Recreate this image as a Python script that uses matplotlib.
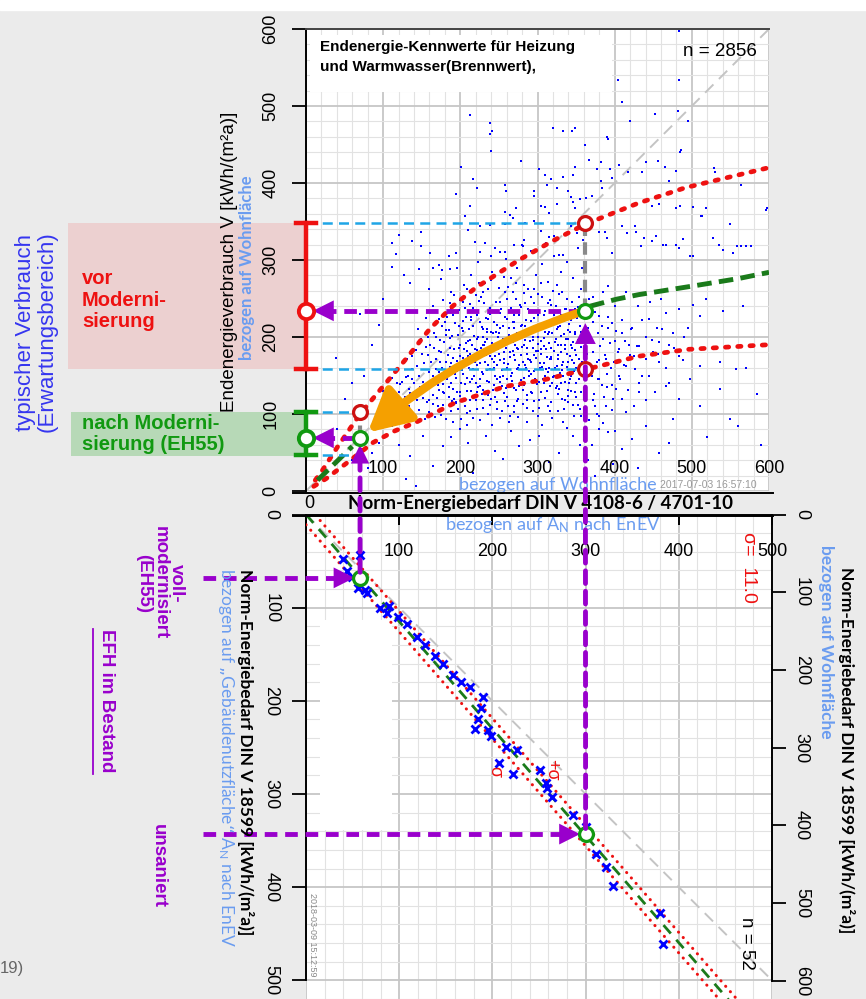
import matplotlib.pyplot as plt
from matplotlib.patches import Rectangle, FancyArrowPatch, ConnectionPatch
from matplotlib.lines import Line2D

# ---------------- data ----------------
# upper panel (Wohnflaeche): demand (x) vs. consumption (y), sparse points
pts_upper = [(212, 488), (238, 478), (241, 467), (239, 463), (240, 442), (320, 472), (333, 468), (345, 468),
             (348, 472), (362, 450), (390, 460), (392, 457), (409, 505), (404, 534), (484, 597), (484, 534),
             (420, 480), (452, 490), (482, 493), (495, 480), (486, 443), (485, 440), (278, 429), (201, 421),
             (217, 405), (221, 394), (194, 386), (258, 397), (259, 389), (302, 418), (310, 411), (318, 405),
             (312, 398), (325, 393), (333, 408), (346, 410), (349, 421), (367, 430), (382, 427), (377, 418),
             (394, 418), (397, 406), (406, 424), (417, 414), (435, 414), (441, 427), (456, 429), (465, 421),
             (470, 403), (480, 416), (529, 419), (530, 414), (564, 398), (296, 389), (295, 383), (340, 389),
             (343, 382), (346, 375), (349, 367), (355, 379), (363, 381), (371, 383), (382, 402), (384, 394),
             (305, 370), (310, 369), (315, 361), (325, 373), (213, 370), (206, 357), (258, 362), (264, 358),
             (272, 368), (268, 355), (295, 351), (284, 348), (258, 347), (238, 346), (225, 344), (210, 339),
             (121, 332), (137, 325), (149, 336), (149, 318), (116, 308), (111, 322), (112, 291), (127, 281),
             (135, 270), (146, 288), (161, 309), (164, 290), (173, 293), (176, 287), (187, 288), (194, 309),
             (219, 324), (225, 311), (232, 322), (240, 305), (252, 311), (258, 311), (270, 320), (281, 318),
             (283, 326), (305, 338), (311, 322), (322, 331), (328, 306), (333, 306), (343, 344), (351, 335),
             (359, 326), (380, 337), (388, 337), (390, 328), (397, 309), (410, 344), (416, 335), (426, 344),
             (428, 337), (434, 318), (438, 329), (449, 325), (454, 331), (463, 320), (467, 319), (479, 320),
             (484, 316), (489, 327), (497, 305), (501, 305), (513, 357), (527, 329), (535, 320), (540, 313),
             (549, 347), (553, 309), (559, 318), (570, 318), (577, 318), (598, 367), (449, 370), (458, 373),
             (479, 367), (485, 370), (501, 369), (518, 367), (512, 357), (564, 318), (596, 365)]

pts_core = [(131, 171), (137, 158), (142, 183), (146, 149), (149, 197), (153, 166), (155, 132), (158, 176),
            (161, 189), (163, 143), (166, 205), (168, 158), (170, 121), (172, 182), (174, 168), (176, 214),
            (177, 139), (179, 193), (181, 152), (183, 226), (184, 176), (186, 110), (187, 161), (189, 201),
            (190, 133), (192, 184), (193, 218), (195, 147), (196, 169), (198, 235), (199, 124), (200, 190),
            (202, 157), (203, 208), (204, 173), (206, 139), (207, 226), (208, 101), (209, 182), (211, 160),
            (212, 196), (213, 243), (214, 130), (215, 171), (217, 214), (218, 149), (219, 185), (220, 118),
            (221, 229), (222, 163), (223, 200), (225, 137), (226, 178), (227, 252), (228, 155), (229, 211),
            (230, 108), (231, 189), (232, 168), (233, 225), (234, 143), (235, 197), (236, 125), (237, 181),
            (238, 238), (239, 159), (240, 207), (241, 172), (242, 131), (243, 219), (244, 188), (245, 150),
            (246, 246), (247, 164), (248, 115), (249, 200), (250, 178), (251, 231), (252, 141), (253, 193),
            (254, 157), (255, 214), (256, 127), (257, 171), (258, 259), (259, 186), (260, 146), (261, 224),
            (262, 165), (263, 203), (264, 98), (265, 180), (266, 238), (267, 153), (268, 194), (269, 134),
            (270, 212), (271, 170), (272, 249), (273, 186), (274, 117), (275, 160), (276, 229), (277, 199),
            (278, 144), (279, 176), (280, 215), (281, 131), (282, 190), (283, 257), (284, 163), (285, 205),
            (286, 108), (287, 178), (288, 236), (289, 150), (290, 195), (291, 221), (292, 167), (293, 127),
            (294, 186), (295, 244), (296, 156), (297, 208), (298, 173), (299, 139), (300, 228), (301, 191),
            (302, 118), (303, 160), (304, 212), (305, 178), (306, 252), (307, 145), (308, 199), (309, 166),
            (310, 234), (311, 184), (312, 130), (313, 215), (314, 155), (315, 192), (316, 104), (317, 171),
            (318, 241), (319, 205), (320, 148), (321, 182), (322, 224), (323, 160), (324, 197), (325, 136),
            (326, 213), (327, 176), (328, 256), (329, 153), (330, 189), (331, 229), (332, 120), (333, 168),
            (334, 204), (335, 142), (336, 184), (337, 237), (338, 161), (339, 198), (340, 131), (341, 217),
            (342, 175), (343, 150), (344, 190), (345, 246), (346, 112), (347, 166), (348, 207), (349, 183),
            (350, 140), (351, 225), (352, 158), (353, 196), (354, 172), (355, 214), (356, 129), (357, 187),
            (358, 241), (359, 150), (360, 203),
            (92, 88), (96, 104), (99, 120), (103, 96), (106, 134), (108, 112), (111, 147), (113, 90),
            (116, 125), (118, 158), (120, 105), (122, 139), (124, 117), (126, 166), (128, 98), (129, 148),
            (133, 110), (135, 127), (139, 96), (140, 140), (144, 118), (147, 105), (151, 128), (154, 94),
            (157, 115), (160, 102), (164, 125), (167, 96), (171, 111), (175, 99), (178, 128), (182, 94),
            (185, 122), (188, 104), (191, 90), (194, 116), (197, 106), (201, 93), (205, 117), (209, 86),
            (213, 104), (217, 95), (222, 128), (226, 92), (230, 118), (236, 100), (241, 86), (247, 107),
            (252, 95), (258, 117), (263, 90), (269, 103), (275, 96), (281, 113), (287, 90), (294, 104),
            (300, 97), (306, 86), (313, 110), (319, 95), (326, 104), (333, 90), (340, 115), (347, 98),
            (355, 107),
            (160, 262), (175, 275), (188, 258), (196, 290), (205, 268), (214, 281), (223, 298), (232, 270),
            (241, 285), (250, 263), (259, 301), (266, 276), (274, 290), (283, 268), (291, 312), (298, 281),
            (306, 295), (314, 272), (322, 305), (330, 284), (338, 298), (346, 276), (352, 315), (358, 290),
            (185, 305), (245, 315), (280, 320), (315, 330), (200, 248), (230, 258), (262, 265), (296, 262),
            (325, 268)]

pts_core2 = [(165, 150), (168, 172), (171, 138), (174, 196), (176, 160), (179, 127), (181, 209), (183, 145),
             (186, 186), (188, 166), (190, 228), (193, 152), (195, 114), (197, 203), (199, 175), (201, 140),
             (203, 221), (205, 162), (207, 192), (209, 130), (211, 210), (213, 178), (215, 146), (217, 238),
             (219, 167), (221, 198), (223, 135), (225, 220), (227, 186), (229, 152), (231, 244), (233, 176),
             (235, 206), (237, 142), (239, 230), (241, 192), (243, 160), (245, 122), (247, 216), (249, 184),
             (251, 148), (253, 236), (255, 198), (257, 166), (259, 134), (261, 250), (263, 212), (265, 174),
             (267, 143), (269, 228), (271, 190), (273, 158), (275, 120), (277, 242), (279, 204), (281, 168),
             (283, 138), (285, 222), (287, 186), (289, 156), (291, 252), (293, 210), (295, 176), (297, 146),
             (299, 234), (301, 200), (303, 166), (305, 128), (307, 218), (309, 188), (311, 158), (313, 244),
             (315, 206), (317, 174), (319, 140), (321, 228), (323, 194), (325, 162), (327, 126), (329, 214),
             (331, 180), (333, 150), (335, 236), (337, 198), (339, 168), (341, 140), (343, 222), (345, 186),
             (347, 156), (349, 204), (178, 112), (192, 120), (206, 110), (222, 106), (238, 112), (254, 104),
             (270, 110), (286, 118), (302, 108), (318, 116), (334, 106), (350, 122), (188, 236), (204, 246),
             (220, 254), (236, 262), (252, 246), (268, 258), (284, 244), (300, 256), (316, 248), (332, 258),
             (348, 236), (356, 262), (172, 224), (158, 200), (150, 178), (144, 162), (138, 146), (134, 132),
             (128, 122), (124, 142), (120, 128), (117, 112), (152, 142), (160, 118), (196, 128), (212, 142),
             (228, 126), (244, 138), (260, 122), (276, 136), (292, 128), (308, 140), (324, 134), (340, 124),
             (186, 244), (262, 198), (278, 214), (294, 196), (246, 206), (230, 200), (214, 226), (198, 214),
             (182, 202), (166, 186), (310, 206), (326, 190), (342, 206), (268, 182), (252, 170), (236, 164),
             (220, 178), (204, 152), (188, 140), (172, 154), (284, 196), (300, 182), (316, 172), (332, 164)]

pts_core3 = [(152, 121), (156, 187), (159, 140), (162, 168), (165, 113), (169, 200), (173, 131), (175, 181),
             (178, 150), (180, 219), (182, 167), (185, 135), (187, 199), (189, 117), (191, 173), (194, 232),
             (196, 156), (198, 186), (200, 129), (202, 212), (204, 168), (206, 238), (208, 147), (210, 195),
             (212, 118), (214, 222), (216, 158), (218, 201), (220, 140), (222, 183), (224, 247), (226, 166),
             (228, 213), (230, 131), (232, 194), (234, 157), (236, 224), (238, 175), (240, 119), (242, 205),
             (244, 167), (246, 233), (248, 145), (250, 190), (252, 212), (254, 136), (256, 181), (258, 226),
             (260, 160), (262, 110), (264, 194), (266, 149), (268, 219), (270, 176), (272, 131), (274, 205),
             (276, 163), (278, 239), (280, 187), (282, 147), (284, 214), (286, 125), (288, 172), (290, 232),
             (292, 152), (294, 200), (296, 117), (298, 182), (300, 214), (302, 142), (304, 195), (306, 161),
             (308, 229), (310, 121), (312, 174), (314, 204), (316, 137), (318, 186), (320, 218), (322, 150),
             (324, 240), (326, 171), (328, 133), (330, 201), (332, 157), (334, 221), (336, 118), (338, 178),
             (340, 209), (342, 145), (344, 230), (346, 193), (348, 128), (350, 176), (352, 239), (354, 146),
             (356, 206), (358, 168), (170, 146), (190, 160), (210, 175), (230, 190), (250, 205), (270, 220),
             (290, 170), (310, 150), (330, 140), (350, 160), (185, 209), (205, 185), (225, 145), (245, 175),
             (265, 135), (285, 160), (305, 185), (325, 210), (345, 170), (215, 190), (235, 210), (255, 150),
             (275, 185), (295, 225), (315, 160), (335, 190), (160, 155), (148, 135), (140, 125), (132, 150),
             (126, 110), (118, 140), (112, 120), (105, 102), (100, 130), (96, 92), (138, 175), (145, 210),
             (155, 225), (165, 240), (178, 248), (192, 255), (208, 262), (224, 270), (240, 274), (256, 278),
             (272, 270), (288, 262), (304, 270), (320, 260), (338, 250), (354, 252)]

pts_edge = [(362, 135), (364, 178), (366, 212), (368, 158), (371, 196), (373, 126), (375, 232), (377, 168),
            (379, 145), (381, 188), (383, 214), (386, 122), (388, 176), (390, 152), (392, 226), (394, 192),
            (397, 138), (399, 168), (402, 208), (404, 181), (407, 146), (409, 222), (412, 164), (414, 195),
            (417, 131), (420, 177), (423, 212), (426, 158), (429, 188), (432, 140), (436, 222), (440, 172),
            (444, 150), (448, 196), (452, 128), (456, 178), (461, 210), (466, 160), (471, 140), (477, 186),
            (483, 120), (489, 170), (495, 212), (352, 112), (357, 98), (343, 130), (361, 242), (367, 250),
            (374, 110), (380, 98), (390, 135), (396, 105), (410, 120), (425, 110), (440, 118)]

pts_right = [(391, 266), (415, 259), (380, 227), (397, 218), (421, 210), (445, 223), (467, 231), (484, 236),
             (501, 242), (518, 249), (540, 234), (566, 240), (510, 227), (475, 205), (458, 193), (432, 188),
             (406, 184), (389, 171), (415, 162), (436, 149), (458, 167), (484, 175), (510, 162), (536, 167),
             (557, 158), (570, 160), (497, 145), (467, 136), (432, 128), (402, 132), (380, 145), (389, 110),
             (415, 102), (441, 85), (475, 93), (510, 110), (536, 132), (585, 126), (549, 93), (380, 80),
             (391, 76), (423, 67), (458, 50), (372, 220), (378, 205), (385, 198), (392, 212), (400, 195),
             (410, 205), (418, 190), (425, 175), (372, 180), (380, 170), (395, 160), (405, 150), (370, 150),
             (383, 138), (398, 120), (372, 118), (377, 100), (367, 92), (385, 88), (400, 78), (370, 60),
             (410, 55), (440, 200), (450, 180), (455, 212), (470, 190), (490, 200), (430, 240), (446, 245),
             (460, 250), (400, 240), (372, 252), (385, 258)]

pts_low = [(60, 40), (72, 55), (80, 30), (86, 50), (95, 62), (104, 72), (112, 84), (120, 60), (130, 15),
           (135, 45), (143, 6), (151, 72), (164, 33), (177, 59), (188, 70), (199, 80), (210, 62), (216, 24),
           (233, 72), (245, 52), (255, 41), (266, 78), (276, 58), (290, 66), (302, 72), (315, 38), (328, 50),
           (338, 82), (346, 72), (355, 60), (365, 40), (375, 20), (398, 35), (430, 30), (470, 62), (520, 70),
           (560, 85), (590, 60), (40, 80), (50, 120), (39, 173), (75, 150), (85, 190), (60, 140), (95, 215),
           (100, 250), (70, 230)]

# curves of the upper panel
upper_x = [12, 22, 40, 70, 100, 130, 160, 190, 220, 276, 320, 363, 431, 492, 550, 600]
upper_y = [14, 28, 56, 100, 136, 172, 210, 240, 264, 300, 325, 347, 374, 394, 408, 420]
lower_x = [10, 26, 55, 87, 115, 142, 194, 259, 311, 363, 431, 496, 600]
lower_y = [6, 16, 38, 63, 78, 89, 115, 136, 145, 158, 175, 184, 190]
median_hi_x = [368, 402, 431, 500, 561, 600]
median_hi_y = [240, 249, 255, 266, 276, 284]
median_lo_x = [15, 60]
median_lo_y = [14, 58]

# example building: demand per Wohnflaeche and expected consumption ranges
demand_pre, demand_post = 362, 70
cons_pre = (158, 234, 348)     # lower, typical, upper
cons_post = (47, 69, 102)

# lower panel: DIN V 18599 (y) vs. DIN V 4108-6 / 4701-10 (x), per A_N
an_x = [58, 40, 44, 49, 56, 63, 65, 79, 89, 87, 99, 108, 119, 128, 138, 147, 158, 166, 176, 190, 188, 185,
        181, 195, 198, 215, 226, 207, 222, 251, 258, 259, 264, 286, 300, 311, 322, 329, 380, 383]
an_y = [43, 48, 61, 67, 79, 81, 84, 100, 98, 106, 110, 118, 131, 140, 152, 160, 172, 180, 185, 196, 208, 219,
        230, 231, 238, 250, 253, 267, 278, 274, 288, 294, 303, 322, 335, 364, 378, 399, 428, 461]
fit_x = [0, 470]
fit_y = [0, 540]
sigma = 11.0
diag = [0, 520]
an_pre, an_post = 300, 58
bed_pre, bed_post = 343, 68
an_to_wfl = 1.2

ticks_top = [0, 100, 200, 300, 400, 500, 600]
ticks_an = [0, 100, 200, 300, 400, 500]
ticks_wfl = [0, 100, 200, 300, 400, 500, 600]

# ---------------- style ----------------
W, H = 866, 999
RED, GREEN, DGREEN = "#ee1111", "#119911", "#1a7a1a"
PURPLE, LBLUE, CYAN = "#9900cc", "#6a9cf0", "#1fa5e6"
ORANGE, BLUE = "#f5a000", "#0000ff"
SANS, CAL = "Liberation Sans", "Lato"
DOTS = (0, (0.7, 1.9))


def P(x, y):
    return x / W, 1 - y / H


fig = plt.figure(figsize=(8.66, 9.99), dpi=100, facecolor="#ebebeb")
fig.add_artist(Rectangle((0, 1 - 10 / H), 1, 10 / H, transform=fig.transFigure, color="white", zorder=0))

# ---------------- upper panel ----------------
ax1 = fig.add_axes([306 / W, 1 - 491 / H, 463 / W, 462 / H])
ax1.set_xlim(0, 600)
ax1.set_ylim(0, 600)
ax1.set_xticks(ticks_top)
ax1.set_yticks(ticks_top)
ax1.set_xticks(range(0, 601, 20), minor=True)
ax1.set_yticks(range(0, 601, 20), minor=True)
ax1.grid(which="minor", color="#e2e2e2", lw=0.8)
ax1.grid(which="major", color="#c6c6c6", lw=1.3)
ax1.set_axisbelow(True)
ax1.tick_params(axis="x", which="both", length=0, labelbottom=False)
ax1.tick_params(axis="y", which="minor", length=0)
ax1.tick_params(axis="y", which="major", length=10, width=1.3, pad=9, labelsize=13)
ax1.set_yticklabels([str(t) for t in ticks_top], rotation=90, va="center", family=SANS)
for s in ["right", "bottom"]:
    ax1.spines[s].set_visible(False)
ax1.spines["left"].set_linewidth(1.4)
ax1.spines["top"].set_color("#444444")
ax1.spines["top"].set_linewidth(1.4)
for t in ticks_top[1:]:
    ax1.text(t, 29, str(t), ha="center", va="center", fontsize=13, family=SANS, zorder=6)

for pts, size in ((pts_upper, 4), (pts_right, 4), (pts_low, 4), (pts_edge, 4.5),
                  (pts_core, 4.5), (pts_core2, 4.5), (pts_core3, 4.5)):
    ax1.scatter([p[0] for p in pts], [p[1] for p in pts], s=size, color=BLUE, marker="s", lw=0, zorder=3)

ax1.plot([0, 600], [0, 600], color="#c4c4c4", lw=1.4, dashes=(6, 4), zorder=2)
ax1.plot(upper_x, upper_y, color=RED, lw=3.4, ls=DOTS, dash_capstyle="round", zorder=5)
ax1.plot(lower_x, lower_y, color=RED, lw=3.4, ls=DOTS, dash_capstyle="round", zorder=5)
ax1.plot(median_hi_x, median_hi_y, color=DGREEN, lw=3.5, dashes=(3, 1.5), zorder=5)
ax1.plot(median_lo_x, median_lo_y, color=DGREEN, lw=3.5, dashes=(3, 1.5), zorder=5)

# cyan guide lines to the range limits
for d, y in ((demand_pre, cons_pre[0]), (demand_pre, cons_pre[2]), (demand_post, cons_post[0]),
             (demand_post, cons_post[2])):
    ax1.plot([0, d], [y, y], color=CYAN, lw=1.8, dashes=(4, 2.5), zorder=6)
ax1.plot([demand_pre, demand_pre], [cons_pre[1], cons_pre[2]], color="#8a8a8a", lw=3, dashes=(3, 1.5), zorder=6)
ax1.plot([demand_post, demand_post], [cons_post[1], cons_post[2]], color="#8a8a8a", lw=3, dashes=(3, 1.5), zorder=6)

# purple arrows to the expected value
for d, y in ((demand_pre, cons_pre[1]), (demand_post, cons_post[1])):
    ax1.plot([d - 6, 28], [y, y], color=PURPLE, lw=3.5, dashes=(2.6, 1.6), zorder=7)
    ax1.annotate("", xy=(9, y), xytext=(32, y),
                 arrowprops=dict(arrowstyle="-|>,head_length=0.5,head_width=0.25", color=PURPLE, lw=0,
                                 mutation_scale=30, shrinkA=0, shrinkB=0), zorder=8)
ax1.annotate("", xy=(demand_pre, 218), xytext=(demand_pre, 190),
             arrowprops=dict(arrowstyle="-|>,head_length=0.5,head_width=0.25", color=PURPLE, lw=0,
                             mutation_scale=30, shrinkA=0, shrinkB=0), zorder=8)
ax1.annotate("", xy=(demand_post, 60), xytext=(demand_post, 35),
             arrowprops=dict(arrowstyle="-|>,head_length=0.45,head_width=0.22", color=PURPLE, lw=0,
                             mutation_scale=30, shrinkA=0, shrinkB=0), zorder=8)

# circles
ax1.plot([demand_pre, demand_pre, demand_post], [cons_pre[0], cons_pre[2], cons_post[2]], "o", ms=10,
         mfc="white", mec="#cc1111", mew=2.3, zorder=9)
ax1.plot([demand_pre, demand_post], [cons_pre[1], cons_post[1]], "o", ms=10, mfc="white", mec=GREEN, mew=2.3,
         zorder=9)

# orange arrow: effect of the modernisation
ax1.add_patch(FancyArrowPatch((352, 231), (80, 76), connectionstyle="arc3,rad=0.1",
                              arrowstyle="-|>,head_length=0.85,head_width=0.45", mutation_scale=30, lw=6,
                              color=ORANGE, shrinkA=0, shrinkB=0, zorder=8))

# expectation ranges at the y axis
ax1.add_patch(Rectangle((-308, cons_pre[0]), 308, cons_pre[2] - cons_pre[0], color="#ecd0d0", lw=0,
                        clip_on=False, zorder=0.2))
ax1.add_patch(Rectangle((-304, cons_post[0] - 2), 304, cons_post[2] - cons_post[0] + 2, color="#b7d9b7",
                        lw=0, clip_on=False, zorder=0.2))
for rng, col in ((cons_pre, RED), (cons_post, GREEN)):
    ax1.plot([0, 0], [rng[0], rng[2]], color=col, lw=3.2, clip_on=False, zorder=9)
    for y in (rng[0], rng[2]):
        ax1.plot([-13, 13], [y, y], color=col, lw=3.2, clip_on=False, zorder=9)
    ax1.plot([0], [rng[1]], "o", ms=11, mfc="white", mec=col, mew=2.8, clip_on=False, zorder=10)

# title box
ax1.add_patch(Rectangle((5, 518), 391, 74, color="white", lw=0, zorder=6))
ax1.text(18, 577, "Endenergie-Kennwerte für Heizung", fontsize=11, weight="bold", family=SANS,
         va="center", zorder=7)
ax1.text(18, 551, "und Warmwasser(Brennwert),", fontsize=11, weight="bold", family=SANS,
         va="center", zorder=7)
fig.text(*P(720, 52), "n = 2856", fontsize=13.5, family=SANS, ha="center", va="center")

fig.text(*P(558, 485), "bezogen auf Wohnfläche", fontsize=13, family=CAL, color=LBLUE, ha="center",
         va="center")
fig.text(*P(708, 485), "2017-07-03 16:57:10", fontsize=7.5, family=SANS, color="#999999", ha="center",
         va="center")

# ---------------- lower panel ----------------
ax2 = fig.add_axes([306 / W, 0, 466 / W, 484.5 / H])
ax2.set_xlim(0, 500)
ax2.set_ylim(519.3, 0)
ax2.set_xticks(ticks_an)
ax2.set_yticks(ticks_an)
ax2.set_xticks(range(0, 501, 20), minor=True)
ax2.set_yticks(range(0, 521, 20), minor=True)
ax2.grid(which="minor", color="#e2e2e2", lw=0.8)
ax2.grid(which="major", color="#c6c6c6", lw=1.3)
ax2.set_axisbelow(True)
ax2.tick_params(which="minor", length=0)
ax2.tick_params(axis="x", which="major", top=True, bottom=False, direction="in", length=7, width=1.4,
                labeltop=False, labelbottom=False)
ax2.tick_params(axis="y", which="major", length=10, width=1.3, pad=9, labelsize=13)
ax2.set_yticklabels([str(t) for t in ticks_an], rotation=270, va="center", family=SANS)
ax2.spines["bottom"].set_visible(False)
ax2.spines["right"].set_visible(False)
ax2.spines["left"].set_bounds(0, 500)
ax2.spines["left"].set_linewidth(1.4)
ax2.spines["top"].set_linewidth(1.4)
for t in ticks_an[1:]:
    ax2.text(t, 40, str(t), ha="center", va="center", fontsize=13, family=SANS, zorder=6, clip_on=False)
# blank patch left of the regression band
ax2.add_patch(Rectangle((15, 113), 77, 226, color="white", lw=0, zorder=1))

ax3 = ax2.twinx()
ax3.set_ylim(519.3 * an_to_wfl, 0)
ax3.set_yticks(ticks_wfl)
ax3.set_yticklabels([str(t) for t in ticks_wfl], rotation=270, va="center", family=SANS)
ax3.tick_params(axis="y", length=10, width=1.3, pad=5, labelsize=13)
for s in ["left", "top", "bottom"]:
    ax3.spines[s].set_visible(False)
ax3.spines["right"].set_bounds(0, 600)
ax3.spines["right"].set_linewidth(1.4)

ax2.plot(diag, diag, color="#c4c4c4", lw=1.4, dashes=(6, 4), zorder=2)
ax2.plot(fit_x, fit_y, color=DGREEN, lw=2, dashes=(4, 3), zorder=4)
ax2.plot(fit_x, [v + sigma for v in fit_y], color=RED, lw=2.2, ls=(0, (0.05, 2.3)), dash_capstyle="round",
         zorder=4)
ax2.plot(fit_x, [v - sigma for v in fit_y], color=RED, lw=2.2, ls=(0, (0.05, 2.3)), dash_capstyle="round",
         zorder=4)
ax2.plot(an_x, an_y, "x", color=BLUE, ms=5.5, mew=2, zorder=5)
ax2.text(203, 274, "-σ", rotation=270, color=RED, fontsize=13, family=SANS, ha="center", va="center")
ax2.text(264, 274, "+σ", rotation=270, color=RED, fontsize=13, family=SANS, ha="center", va="center")

for x, y in ((an_pre, bed_pre), (an_post, bed_post)):
    ax2.plot([-110, x - 25], [y, y], color=PURPLE, lw=3.5, dashes=(2.6, 1.6), clip_on=False, zorder=7)
    ax2.annotate("", xy=(x - 6, y), xytext=(x - 30, y), annotation_clip=False,
                 arrowprops=dict(arrowstyle="-|>,head_length=0.5,head_width=0.25", color=PURPLE, lw=0,
                                 mutation_scale=30, shrinkA=0, shrinkB=0), zorder=8)
    ax2.plot([x], [y], "o", ms=10, mfc="white", mec=GREEN, mew=2.3, zorder=9)

for (xa, ya), (xw, yw) in (((an_pre, bed_pre - 6), (demand_pre, 200)), ((an_post, bed_post - 6), (demand_post, 40))):
    fig.add_artist(ConnectionPatch(xyA=(xa, ya), coordsA=ax2.transData, xyB=(xw, yw), coordsB=ax1.transData,
                                   color=PURPLE, lw=3.5, linestyle=(0, (2.6, 1.6)), zorder=7))

# separator strip
for yy in (492.5, 516):
    fig.add_artist(Line2D([293 / W, 773 / W], [1 - yy / H] * 2, color="black", lw=1.4,
                          transform=fig.transFigure, zorder=5))
fig.text(*P(309, 503), "0", fontsize=13, family=SANS, ha="center", va="center")
fig.text(*P(541, 503), "Norm-Energiebedarf DIN V 4108-6 / 4701-10", fontsize=13.5, weight="bold", family=CAL,
         ha="center", va="center")
fig.text(*P(553, 525), r"bezogen auf $\mathregular{A_N}$ nach EnEV", fontsize=13, family=CAL, color=LBLUE,
         ha="center", va="center")

fig.text(*P(748, 567), "σ=  11.0", rotation=270, color=RED, fontsize=14, family=SANS, ha="center", va="center")
fig.text(*P(746, 943), "n = 52", rotation=270, fontsize=13.5, family=SANS, ha="center", va="center")
fig.text(*P(313, 935), "2018-03-09 15:12:59", rotation=270, fontsize=6.5, family=SANS, color="#888888",
         ha="center", va="center")

# axis titles
fig.text(*P(229, 262), "Endenergieverbrauch V [kWh/(m²a)]", rotation=90, fontsize=13.5, family=SANS,
         ha="center", va="center")
fig.text(*P(247, 268), "bezogen auf Wohnfläche", rotation=90, fontsize=12, weight="bold", family=CAL,
         color=LBLUE, ha="center", va="center")
fig.text(*P(245, 752), "Norm-Energiebedarf DIN V 18599 [kWh/(m²a)]", rotation=270, fontsize=12.5,
         weight="bold", family=CAL, ha="center", va="center")
fig.text(*P(226, 757), "bezogen auf „Gebäudenutzfläche“ $\\mathregular{A_N}$ nach EnEV", rotation=270,
         fontsize=12.5, family=CAL, color=LBLUE, ha="center", va="center")
fig.text(*P(846, 750), "Norm-Energiebedarf DIN V 18599 [kWh/(m²a)]", rotation=270, fontsize=12.5,
         weight="bold", family=CAL, ha="center", va="center")
fig.text(*P(826, 642), "bezogen auf Wohnfläche", rotation=270, fontsize=12.5, weight="bold", family=CAL,
         color=LBLUE, ha="center", va="center")

# left annotations
fig.text(*P(36, 332), "typischer Verbrauch\n(Erwartungsbereich)", rotation=90, fontsize=16, family=SANS,
         color="#3535f0", ha="center", va="center", linespacing=1.05)
fig.text(*P(82, 300), "vor\nModerni-\nsierung", fontsize=14.5, weight="bold", family=SANS, color=RED,
         ha="left", va="center", linespacing=1.15)
fig.text(*P(82, 434), "nach Moderni-\nsierung (EH55)", fontsize=14.5, weight="bold", family=SANS, color=GREEN,
         ha="left", va="center", linespacing=1.15)
fig.text(*P(160, 583), "voll-\nmodernisiert\n(EH55)", rotation=270, fontsize=13.5, weight="bold", family=SANS,
         color=PURPLE, ha="center", va="center", linespacing=0.95)
fig.text(*P(106, 701), "EFH im Bestand", rotation=270, fontsize=13.5, weight="bold", family=SANS,
         color=PURPLE, ha="center", va="center")
fig.add_artist(Line2D([93 / W] * 2, [1 - 629 / H, 1 - 774 / H], color=PURPLE, lw=1.3,
                      transform=fig.transFigure))
fig.text(*P(158, 866), "unsaniert", rotation=270, fontsize=13.5, weight="bold", family=SANS, color=PURPLE,
         ha="center", va="center")
fig.text(*P(12, 969), "19)", fontsize=12, family=SANS, color="#666666", ha="center", va="center")

fig.savefig("out.png", dpi=100, facecolor=fig.get_facecolor())
